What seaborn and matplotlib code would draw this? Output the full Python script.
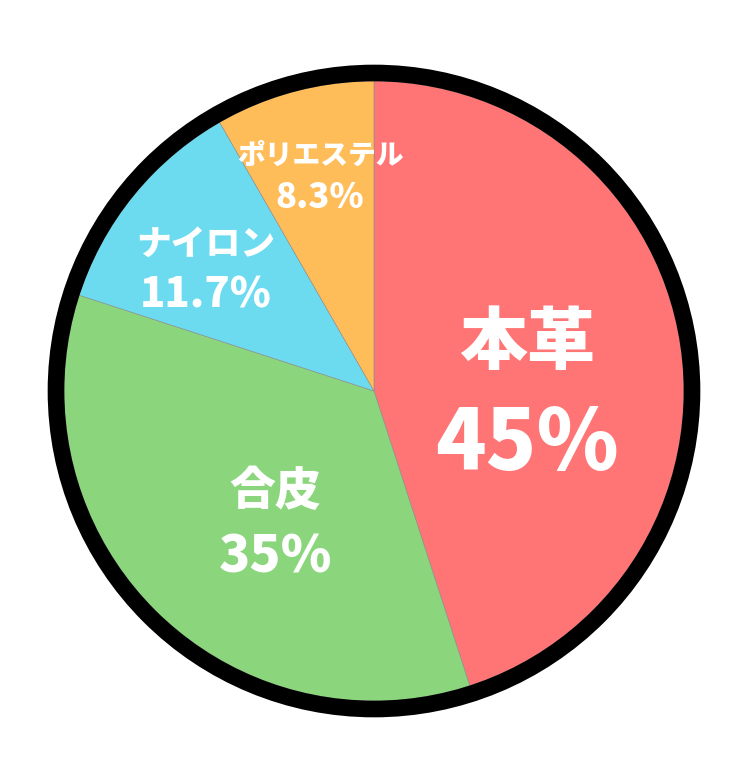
import matplotlib.pyplot as plt
import seaborn as sns
from matplotlib.patches import Circle

# data
materials = ['本革', '合皮', 'ナイロン', 'ポリエステル']
shares = [45, 35, 11.7, 8.3]
pct_labels = ['45%', '35%', '11.7%', '8.3%']
colors = ['#FF7474', '#8BD67D', '#6CDBEF', '#FFBD5A']

sns.set_theme(style='white')
plt.rcParams['font.family'] = ['Noto Sans CJK JP', 'DejaVu Sans']

W, H = 735, 761
fig = plt.figure(figsize=(W / 100, H / 100), dpi=100)
ax = fig.add_axes([0, 0, 1, 1])

cx, cy = 374, H - 391
r = 310

ax.pie(shares, colors=colors, startangle=90, counterclock=False,
       center=(cx, cy), radius=r, frame=True,
       wedgeprops=dict(edgecolor='#8a8a8a', linewidth=0.4))
ax.set_xlim(0, W)
ax.set_ylim(0, H)
ax.set_aspect('equal')
ax.axis('off')

# thick black ring
ax.add_patch(Circle((cx, cy), r + 8, fill=False, edgecolor='black', linewidth=12))

# label positions in pixels (x, name y, pct y) and sizes
label_pos = [(527, 343, 445), (275, 492, 557), (206, 245, 296), (320, 155, 197)]
name_sizes = [49, 33, 25, 20]
pct_sizes = [60, 37, 30, 25]

for name, pct, (x, yn, yp), ns, ps in zip(materials, pct_labels, label_pos, name_sizes, pct_sizes):
    ax.text(x, H - yn, name, ha='center', va='center', color='white',
            fontsize=ns, fontweight='black')
    ax.text(x, H - yp, pct, ha='center', va='center', color='white',
            fontsize=ps, fontweight='black')

fig.savefig('out.png', dpi=100, facecolor='white')
